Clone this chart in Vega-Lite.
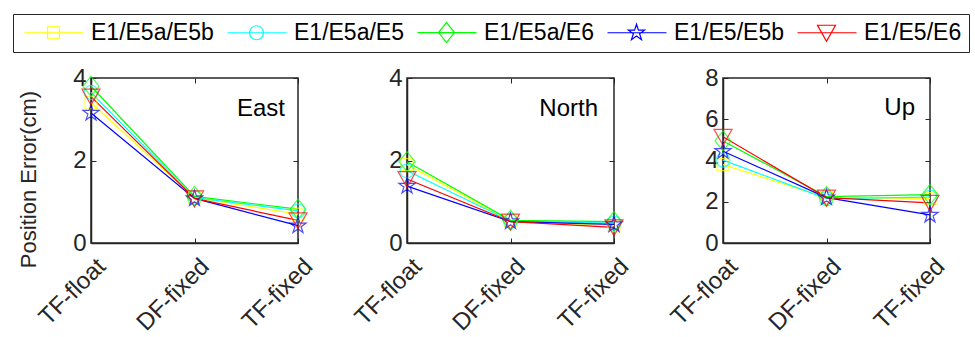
{
  "$schema": "https://vega.github.io/schema/vega-lite/v6.json",
  "padding": {"left": 12, "top": 13, "right": 0, "bottom": 0},
  "background": "white",
  "data": {"values": [
    {"comp":"East","pos":"TF-float","series":"E1/E5a/E5b","value":3.40},
    {"comp":"East","pos":"TF-float","series":"E1/E5a/E5","value":3.65},
    {"comp":"East","pos":"TF-float","series":"E1/E5a/E6","value":3.80},
    {"comp":"East","pos":"TF-float","series":"E1/E5/E5b","value":3.15},
    {"comp":"East","pos":"TF-float","series":"E1/E5/E6","value":3.55},
    {"comp":"East","pos":"DF-fixed","series":"E1/E5a/E5b","value":1.10},
    {"comp":"East","pos":"DF-fixed","series":"E1/E5a/E5","value":1.10},
    {"comp":"East","pos":"DF-fixed","series":"E1/E5a/E6","value":1.13},
    {"comp":"East","pos":"DF-fixed","series":"E1/E5/E5b","value":1.08},
    {"comp":"East","pos":"DF-fixed","series":"E1/E5/E6","value":1.08},
    {"comp":"East","pos":"TF-fixed","series":"E1/E5a/E5b","value":0.70},
    {"comp":"East","pos":"TF-fixed","series":"E1/E5a/E5","value":0.78},
    {"comp":"East","pos":"TF-fixed","series":"E1/E5a/E6","value":0.82},
    {"comp":"East","pos":"TF-fixed","series":"E1/E5/E5b","value":0.42},
    {"comp":"East","pos":"TF-fixed","series":"E1/E5/E6","value":0.55},
    {"comp":"North","pos":"TF-float","series":"E1/E5a/E5b","value":1.90},
    {"comp":"North","pos":"TF-float","series":"E1/E5a/E5","value":1.75},
    {"comp":"North","pos":"TF-float","series":"E1/E5a/E6","value":1.97},
    {"comp":"North","pos":"TF-float","series":"E1/E5/E5b","value":1.38},
    {"comp":"North","pos":"TF-float","series":"E1/E5/E6","value":1.55},
    {"comp":"North","pos":"DF-fixed","series":"E1/E5a/E5b","value":0.53},
    {"comp":"North","pos":"DF-fixed","series":"E1/E5a/E5","value":0.53},
    {"comp":"North","pos":"DF-fixed","series":"E1/E5a/E6","value":0.55},
    {"comp":"North","pos":"DF-fixed","series":"E1/E5/E5b","value":0.52},
    {"comp":"North","pos":"DF-fixed","series":"E1/E5/E6","value":0.52},
    {"comp":"North","pos":"TF-fixed","series":"E1/E5a/E5b","value":0.42},
    {"comp":"North","pos":"TF-fixed","series":"E1/E5a/E5","value":0.48},
    {"comp":"North","pos":"TF-fixed","series":"E1/E5a/E6","value":0.52},
    {"comp":"North","pos":"TF-fixed","series":"E1/E5/E5b","value":0.45},
    {"comp":"North","pos":"TF-fixed","series":"E1/E5/E6","value":0.38},
    {"comp":"Up","pos":"TF-float","series":"E1/E5a/E5b","value":3.80},
    {"comp":"Up","pos":"TF-float","series":"E1/E5a/E5","value":4.02},
    {"comp":"Up","pos":"TF-float","series":"E1/E5a/E6","value":4.95},
    {"comp":"Up","pos":"TF-float","series":"E1/E5/E5b","value":4.45},
    {"comp":"Up","pos":"TF-float","series":"E1/E5/E6","value":5.15},
    {"comp":"Up","pos":"DF-fixed","series":"E1/E5a/E5b","value":2.20},
    {"comp":"Up","pos":"DF-fixed","series":"E1/E5a/E5","value":2.15},
    {"comp":"Up","pos":"DF-fixed","series":"E1/E5a/E6","value":2.25},
    {"comp":"Up","pos":"DF-fixed","series":"E1/E5/E5b","value":2.20},
    {"comp":"Up","pos":"DF-fixed","series":"E1/E5/E6","value":2.20},
    {"comp":"Up","pos":"TF-fixed","series":"E1/E5a/E5b","value":2.15},
    {"comp":"Up","pos":"TF-fixed","series":"E1/E5a/E5","value":2.22},
    {"comp":"Up","pos":"TF-fixed","series":"E1/E5a/E6","value":2.35},
    {"comp":"Up","pos":"TF-fixed","series":"E1/E5/E5b","value":1.36},
    {"comp":"Up","pos":"TF-fixed","series":"E1/E5/E6","value":1.95}
  ]},
  "bounds": "flush",
  "spacing": 109,
  "hconcat": [
    {
      "width": 207, "height": 165,
      "resolve": {"axis": {"x": "independent", "y": "independent"}},
      "layer": [
        {
          "transform": [{"filter": "datum.comp === 'East'"}],
          "encoding": {
            "x": {"field": "pos", "type": "nominal", "sort": ["TF-float","DF-fixed","TF-fixed"], "scale": {"type": "point", "padding": 0}, "axis": {"title": null}},
            "y": {"field": "value", "type": "quantitative", "scale": {"domain": [0,4], "nice": false}, "axis": {"values": [0,2,4], "title": "Position Error(cm)", "titleY": 101}},
            "color": {"field": "series", "type": "nominal", "scale": {"domain": ["E1/E5a/E5b","E1/E5a/E5","E1/E5a/E6","E1/E5/E5b","E1/E5/E6"], "range": ["#FFFF00","#00FFFF","#00FF00","#0000FF","#FF0000"]},
              "legend": {"symbolType": {"expr": "datum.value === 'E1/E5a/E5b' ? 'M-0.7,0H5.2M1.6,-0.6H2.8V0.6H1.6Z' : datum.value === 'E1/E5a/E5' ? 'M-0.7,0H5.2M1.5,0A0.7,0.7 0 1,0 2.9,0A0.7,0.7 0 1,0 1.5,0Z' : datum.value === 'E1/E5a/E6' ? 'M-0.7,0H5.2M2.2,-1L3,0L2.2,1L1.4,0Z' : datum.value === 'E1/E5/E5b' ? 'M-0.7,0H5.2M2.2,-0.85L2.391,-0.263L3.008,-0.263L2.509,0.1L2.7,0.688L2.2,0.325L1.7,0.688L1.891,0.1L1.392,-0.263L2.009,-0.263Z' : 'M-0.7,0H5.2M1.3,-0.75H3.1L2.2,0.85Z'"}}}
          },
          "layer": [
            {"mark": {"type": "line", "strokeWidth": 1.2}},
            {"transform": [{"filter": "datum.series === 'E1/E5a/E5b'"}], "mark": {"type": "point", "filled": false, "size": 400, "strokeWidth": 1.2, "shape": "M-0.6,-0.6H0.6V0.6H-0.6Z"}},
            {"transform": [{"filter": "datum.series === 'E1/E5a/E5'"}], "mark": {"type": "point", "filled": false, "size": 400, "strokeWidth": 1.2, "shape": "M-0.7,0A0.7,0.7 0 1,0 0.7,0A0.7,0.7 0 1,0 -0.7,0Z"}},
            {"transform": [{"filter": "datum.series === 'E1/E5a/E6'"}], "mark": {"type": "point", "filled": false, "size": 400, "strokeWidth": 1.2, "shape": "M0,-1L0.8,0L0,1L-0.8,0Z"}},
            {"transform": [{"filter": "datum.series === 'E1/E5/E5b'"}], "mark": {"type": "point", "filled": false, "size": 400, "strokeWidth": 1.2, "shape": "M0,-0.85L0.191,-0.263L0.808,-0.263L0.309,0.1L0.5,0.688L0,0.325L-0.5,0.688L-0.309,0.1L-0.808,-0.263L-0.191,-0.263Z"}},
            {"transform": [{"filter": "datum.series === 'E1/E5/E6'"}], "mark": {"type": "point", "filled": false, "size": 400, "strokeWidth": 1.2, "shape": "M-0.9,-0.75H0.9L0,0.85Z"}}
          ]
        },
        {"data": {"values": [{"comp": "East"}]},
         "mark": {"type": "text", "text": "East", "align": "right", "baseline": "middle", "dx": -13, "fontSize": 24, "color": "#000000"},
         "encoding": {"x": {"datum": "TF-fixed", "axis": {"orient": "top", "labels": false, "domain": false, "title": null}}, "y": {"datum": 3.25, "axis": {"orient": "right", "labels": false, "domain": false, "title": null, "values": [0,2,4]}}}}
      ]
    },
    {
      "width": 207, "height": 165,
      "resolve": {"axis": {"x": "independent", "y": "independent"}},
      "layer": [
        {
          "transform": [{"filter": "datum.comp === 'North'"}],
          "encoding": {
            "x": {"field": "pos", "type": "nominal", "sort": ["TF-float","DF-fixed","TF-fixed"], "scale": {"type": "point", "padding": 0}, "axis": {"title": null}},
            "y": {"field": "value", "type": "quantitative", "scale": {"domain": [0,4], "nice": false}, "axis": {"values": [0,2,4], "title": null}},
            "color": {"field": "series", "type": "nominal"}
          },
          "layer": [
            {"mark": {"type": "line", "strokeWidth": 1.2}},
            {"transform": [{"filter": "datum.series === 'E1/E5a/E5b'"}], "mark": {"type": "point", "filled": false, "size": 400, "strokeWidth": 1.2, "shape": "M-0.6,-0.6H0.6V0.6H-0.6Z"}},
            {"transform": [{"filter": "datum.series === 'E1/E5a/E5'"}], "mark": {"type": "point", "filled": false, "size": 400, "strokeWidth": 1.2, "shape": "M-0.7,0A0.7,0.7 0 1,0 0.7,0A0.7,0.7 0 1,0 -0.7,0Z"}},
            {"transform": [{"filter": "datum.series === 'E1/E5a/E6'"}], "mark": {"type": "point", "filled": false, "size": 400, "strokeWidth": 1.2, "shape": "M0,-1L0.8,0L0,1L-0.8,0Z"}},
            {"transform": [{"filter": "datum.series === 'E1/E5/E5b'"}], "mark": {"type": "point", "filled": false, "size": 400, "strokeWidth": 1.2, "shape": "M0,-0.85L0.191,-0.263L0.808,-0.263L0.309,0.1L0.5,0.688L0,0.325L-0.5,0.688L-0.309,0.1L-0.808,-0.263L-0.191,-0.263Z"}},
            {"transform": [{"filter": "datum.series === 'E1/E5/E6'"}], "mark": {"type": "point", "filled": false, "size": 400, "strokeWidth": 1.2, "shape": "M-0.9,-0.75H0.9L0,0.85Z"}}
          ]
        },
        {"data": {"values": [{"comp": "North"}]},
         "mark": {"type": "text", "text": "North", "align": "right", "baseline": "middle", "dx": -16, "fontSize": 24, "color": "#000000"},
         "encoding": {"x": {"datum": "TF-fixed", "axis": {"orient": "top", "labels": false, "domain": false, "title": null}}, "y": {"datum": 3.25, "axis": {"orient": "right", "labels": false, "domain": false, "title": null, "values": [0,2,4]}}}}
      ]
    },
    {
      "width": 207, "height": 165,
      "resolve": {"axis": {"x": "independent", "y": "independent"}},
      "layer": [
        {
          "transform": [{"filter": "datum.comp === 'Up'"}],
          "encoding": {
            "x": {"field": "pos", "type": "nominal", "sort": ["TF-float","DF-fixed","TF-fixed"], "scale": {"type": "point", "padding": 0}, "axis": {"title": null}},
            "y": {"field": "value", "type": "quantitative", "scale": {"domain": [0,8], "nice": false}, "axis": {"values": [0,2,4,6,8], "title": null}},
            "color": {"field": "series", "type": "nominal"}
          },
          "layer": [
            {"mark": {"type": "line", "strokeWidth": 1.2}},
            {"transform": [{"filter": "datum.series === 'E1/E5a/E5b'"}], "mark": {"type": "point", "filled": false, "size": 400, "strokeWidth": 1.2, "shape": "M-0.6,-0.6H0.6V0.6H-0.6Z"}},
            {"transform": [{"filter": "datum.series === 'E1/E5a/E5'"}], "mark": {"type": "point", "filled": false, "size": 400, "strokeWidth": 1.2, "shape": "M-0.7,0A0.7,0.7 0 1,0 0.7,0A0.7,0.7 0 1,0 -0.7,0Z"}},
            {"transform": [{"filter": "datum.series === 'E1/E5a/E6'"}], "mark": {"type": "point", "filled": false, "size": 400, "strokeWidth": 1.2, "shape": "M0,-1L0.8,0L0,1L-0.8,0Z"}},
            {"transform": [{"filter": "datum.series === 'E1/E5/E5b'"}], "mark": {"type": "point", "filled": false, "size": 400, "strokeWidth": 1.2, "shape": "M0,-0.85L0.191,-0.263L0.808,-0.263L0.309,0.1L0.5,0.688L0,0.325L-0.5,0.688L-0.309,0.1L-0.808,-0.263L-0.191,-0.263Z"}},
            {"transform": [{"filter": "datum.series === 'E1/E5/E6'"}], "mark": {"type": "point", "filled": false, "size": 400, "strokeWidth": 1.2, "shape": "M-0.9,-0.75H0.9L0,0.85Z"}}
          ]
        },
        {"data": {"values": [{"comp": "Up"}]},
         "mark": {"type": "text", "text": "Up", "align": "right", "baseline": "middle", "dx": -15, "fontSize": 24, "color": "#000000"},
         "encoding": {"x": {"datum": "TF-fixed", "axis": {"orient": "top", "labels": false, "domain": false, "title": null}}, "y": {"datum": 6.55, "axis": {"orient": "right", "labels": false, "domain": false, "title": null, "values": [0,2,4,6,8]}}}}
      ]
    }
  ],
  "resolve": {"scale": {"y": "independent", "x": "independent"}},
  "config": {
    "font": "Liberation Sans",
    "view": {"stroke": "#262626", "strokeWidth": 1.5},
    "axis": {"grid": false, "labelFontSize": 24, "labelColor": "#262626", "domainColor": "#262626", "domainWidth": 1.5, "tickColor": "#262626", "tickSize": -5, "titleFontSize": 22, "titleFontWeight": "normal", "titleColor": "#262626", "labelFont": "Liberation Sans", "titleFont": "Liberation Sans"},
    "axisY": {"labelPadding": 10, "minExtent": 30, "maxExtent": 30, "titlePadding": 21},
    "axisX": {"labelAngle": -45, "labelAlign": "right", "labelBaseline": "top", "labelPadding": 16, "labelOffset": 2, "labelFontSize": 24},
    "legend": {
      "orient": "none", "legendX": -78, "legendY": -64, "direction": "horizontal", "title": null,
      "labelFontSize": 23, "labelFont": "Liberation Sans", "labelColor": "#000000",
      "symbolSize": 400, "symbolStrokeWidth": 1.2, "symbolOpacity": 1, "symbolFillColor": "transparent",
      "strokeColor": "#262626", "fillColor": "white", "padding": 7,
      "columnPadding": 9, "labelOffset": 48
    }
  }
}
